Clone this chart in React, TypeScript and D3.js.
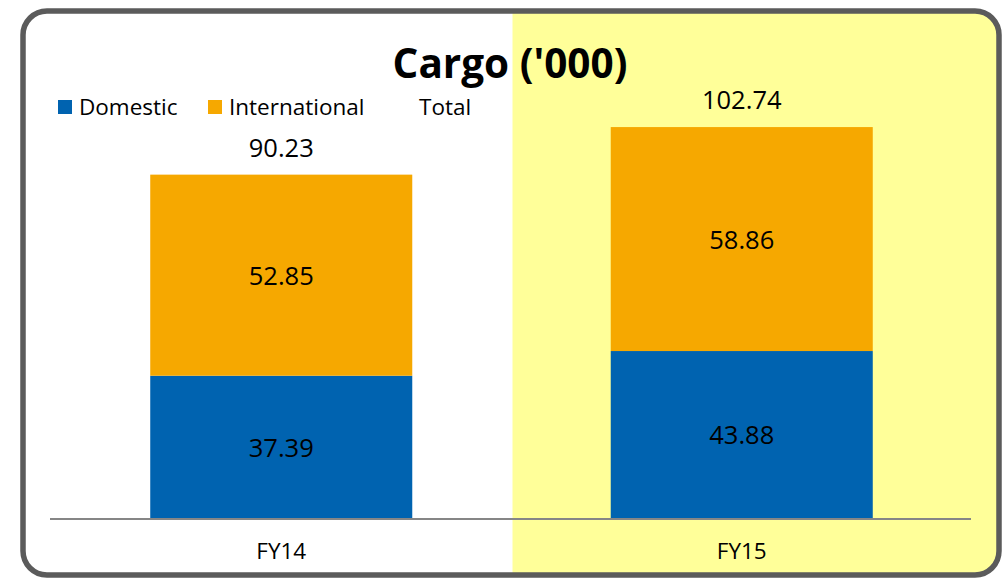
import { useEffect, useRef } from 'react'
import * as d3 from 'd3'

const CATEGORIES = ['FY14', 'FY15']
const DOMESTIC = [37.39, 43.88]
const INTERNATIONAL = [52.85, 58.86]
const TOTAL = [90.23, 102.74]
const LEGEND = ['Domestic', 'International', 'Total']

const W = 1003
const H = 578
const BLUE = '#0063b0'
const ORANGE = '#f6a800'
const YELLOW = '#ffff99'
const FONT = '"Open Sans", "Noto Sans", sans-serif'

export default function App() {
  const svgRef = useRef<SVGSVGElement>(null)

  useEffect(() => {
    if (!svgRef.current) return
    const svg = d3.select(svgRef.current)
    svg.selectAll('*').remove()

    const x = d3.scaleBand<string>().domain(CATEGORIES).range([51, 972]).padding(0)
    const y = d3.scaleLinear().domain([0, 120]).range([518, 61.4])
    const barW = x.bandwidth() * 0.569

    // frame clip
    const defs = svg.append('defs')
    defs.append('clipPath').attr('id', 'frame-clip')
      .append('rect').attr('x', 23).attr('y', 11).attr('width', 976).attr('height', 564).attr('rx', 24)

    svg.append('rect').attr('x', 23).attr('y', 11).attr('width', 976).attr('height', 564).attr('rx', 24)
      .attr('fill', '#fff')

    // highlight FY15 column
    svg.append('rect').attr('clip-path', 'url(#frame-clip)')
      .attr('x', (x('FY15') ?? 0) + 1).attr('y', 11)
      .attr('width', 999 - (x('FY15') ?? 0)).attr('height', 564)
      .attr('fill', YELLOW)

    svg.append('rect').attr('x', 23).attr('y', 11).attr('width', 976).attr('height', 564).attr('rx', 24)
      .attr('fill', 'none').attr('stroke', '#5b5b5b').attr('stroke-width', 5.5)

    const g = svg.append('g')
    CATEGORIES.forEach((c, i) => {
      const bx = (x(c) ?? 0) + (x.bandwidth() - barW) / 2
      const cx = (x(c) ?? 0) + x.bandwidth() / 2
      const d = DOMESTIC[i]
      const t = INTERNATIONAL[i]
      g.append('rect').attr('x', bx).attr('width', barW)
        .attr('y', y(d)).attr('height', y(0) - y(d)).attr('fill', BLUE)
      g.append('rect').attr('x', bx).attr('width', barW)
        .attr('y', y(d + t)).attr('height', y(d) - y(d + t)).attr('fill', ORANGE)

      g.append('text').attr('x', cx).attr('y', (y(0) + y(d)) / 2 + 1).attr('dy', '0.35em')
        .attr('text-anchor', 'middle').attr('font-size', 25.5).attr('fill', '#000').text(d.toFixed(2))
      g.append('text').attr('x', cx).attr('y', (y(d) + y(d + t)) / 2 + 1).attr('dy', '0.35em')
        .attr('text-anchor', 'middle').attr('font-size', 25.5).attr('fill', '#000').text(t.toFixed(2))
      g.append('text').attr('x', cx).attr('y', y(TOTAL[i]) - 27).attr('dy', '0.35em')
        .attr('text-anchor', 'middle').attr('font-size', 25.5).attr('fill', '#000').text(TOTAL[i].toFixed(2))

      g.append('text').attr('x', cx).attr('y', 551).attr('dy', '0.35em')
        .attr('text-anchor', 'middle').attr('font-size', 22.5).attr('fill', '#000').text(c)
    })

    // baseline
    svg.append('line').attr('x1', 50).attr('x2', 971).attr('y1', 519).attr('y2', 519)
      .attr('stroke', '#868686').attr('stroke-width', 2)

    // title
    svg.append('text').attr('x', 510).attr('y', 64).attr('dy', '0.35em')
      .attr('text-anchor', 'middle').attr('font-size', 40.5).attr('font-weight', 700)
      .attr('fill', '#000').text("Cargo ('000)")

    // legend
    const legendX = [58, 208, 398]
    const legendColor = [BLUE, ORANGE, 'none']
    LEGEND.forEach((l, i) => {
      if (legendColor[i] !== 'none') {
        svg.append('rect').attr('x', legendX[i]).attr('y', 100).attr('width', 14).attr('height', 14)
          .attr('fill', legendColor[i])
      }
      svg.append('text').attr('x', legendX[i] + 21).attr('y', 107).attr('dy', '0.35em')
        .attr('font-size', 22.5).attr('fill', '#000').text(l)
    })
  }, [])

  return (
    <svg ref={svgRef} width={W} height={H}
      style={{ position: 'absolute', left: 0, top: 0, fontFamily: FONT }} />
  )
}
